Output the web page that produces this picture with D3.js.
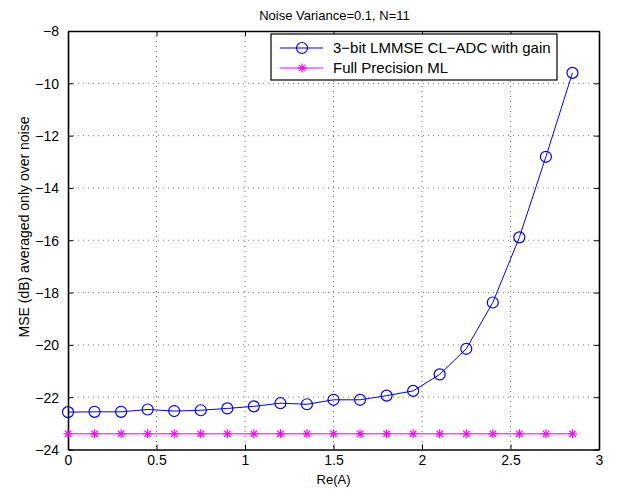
<!DOCTYPE html>
<html>
<head>
<meta charset="utf-8">
<script src="https://cdn.jsdelivr.net/npm/d3@7"></script>
<style>
  body { margin: 0; background: #fff; }
  svg { font-family: "Liberation Sans", Arial, sans-serif; }
</style>
</head>
<body>
<svg id="chart" width="617" height="490"></svg>
<script>
var xValues = [0, 0.15, 0.3, 0.45, 0.6, 0.75, 0.9, 1.05, 1.2, 1.35, 1.5, 1.65, 1.8, 1.95, 2.1, 2.25, 2.4, 2.55, 2.7, 2.85];
var lmmseValues = [-22.57, -22.56, -22.56, -22.47, -22.53, -22.5, -22.43, -22.35, -22.23, -22.27, -22.1, -22.1, -21.94, -21.76, -21.13, -20.15, -18.38, -15.89, -12.81, -9.6];
var mlValues = [-23.4, -23.4, -23.4, -23.4, -23.4, -23.4, -23.4, -23.4, -23.4, -23.4, -23.4, -23.4, -23.4, -23.4, -23.4, -23.4, -23.4, -23.4, -23.4, -23.4];
var xTicks = [0, 0.5, 1, 1.5, 2, 2.5, 3];
var yTicks = [-24, -22, -20, -18, -16, -14, -12, -10, -8];
var seriesNames = ['3\u2212bit LMMSE CL\u2212ADC with gain', 'Full Precision ML'];

(function() {
    var svg = d3.select('#chart');
    var margin = {top: 31, right: 18, bottom: 40.5, left: 68};
    var width = 617 - margin.left - margin.right;
    var height = 490 - margin.top - margin.bottom;

    var x = d3.scaleLinear().domain([0, 3]).range([0, width]);
    var y = d3.scaleLinear().domain([-24, -8]).range([height, 0]);

    var g = svg.append('g')
        .attr('transform', 'translate(' + margin.left + ',' + margin.top + ')');

    // dotted grid
    g.append('g').selectAll('line')
        .data(xTicks.slice(1, -1))
        .enter().append('line')
        .attr('x1', function(d) { return x(d); })
        .attr('x2', function(d) { return x(d); })
        .attr('y1', 0).attr('y2', height)
        .attr('stroke', '#555').attr('stroke-width', 0.8)
        .attr('stroke-dasharray', '1,4');
    g.append('g').selectAll('line')
        .data(yTicks.slice(1, -1))
        .enter().append('line')
        .attr('y1', function(d) { return y(d); })
        .attr('y2', function(d) { return y(d); })
        .attr('x1', 0).attr('x2', width)
        .attr('stroke', '#555').attr('stroke-width', 0.8)
        .attr('stroke-dasharray', '1,4');

    var fmt = function(d) { return d < 0 ? '\u2212' + Math.abs(d) : d; };

    // axes with inward ticks on all four sides
    var bottomAxis = g.append('g')
        .attr('transform', 'translate(0,' + height + ')')
        .call(d3.axisBottom(x).tickValues(xTicks).tickSizeInner(-5).tickSizeOuter(0).tickPadding(5).tickFormat(fmt));
    var topAxis = g.append('g')
        .call(d3.axisTop(x).tickValues(xTicks).tickSizeInner(-5).tickSizeOuter(0).tickFormat(''));
    var leftAxis = g.append('g')
        .call(d3.axisLeft(y).tickValues(yTicks).tickSizeInner(-5).tickSizeOuter(0).tickPadding(9).tickFormat(fmt));
    var rightAxis = g.append('g')
        .attr('transform', 'translate(' + width + ',0)')
        .call(d3.axisRight(y).tickValues(yTicks).tickSizeInner(-5).tickSizeOuter(0).tickFormat(''));

    [bottomAxis, topAxis, leftAxis, rightAxis].forEach(function(a) {
        a.selectAll('.domain').attr('stroke', '#000').attr('stroke-width', 1.6);
        a.selectAll('.tick line').attr('stroke', '#000').attr('stroke-width', 1);
        a.selectAll('text').attr('font-size', 14).attr('fill', '#000')
            .attr('font-family', '"Liberation Sans", Arial, sans-serif');
    });
    bottomAxis.selectAll('text').attr('dy', '0.72em');
    leftAxis.selectAll('text').attr('dy', '0.35em');

    // series
    var line = d3.line()
        .x(function(d) { return x(d[0]); })
        .y(function(d) { return y(d[1]); });

    var mlData = d3.zip(xValues, mlValues);
    var lmmseData = d3.zip(xValues, lmmseValues);

    g.append('path')
        .datum(mlData)
        .attr('d', line)
        .attr('fill', 'none')
        .attr('stroke', '#ff00ff')
        .attr('stroke-width', 1);

    function star(sel, r) {
        sel.each(function(d) {
            var gg = d3.select(this);
            [0, 45, 90, 135].forEach(function(a) {
                var rad = a * Math.PI / 180;
                gg.append('line')
                    .attr('x1', -r * Math.cos(rad)).attr('y1', -r * Math.sin(rad))
                    .attr('x2', r * Math.cos(rad)).attr('y2', r * Math.sin(rad))
                    .attr('stroke', '#ff00ff').attr('stroke-width', 1.2);
            });
        });
    }

    g.append('g').selectAll('g')
        .data(mlData)
        .enter().append('g')
        .attr('transform', function(d) { return 'translate(' + x(d[0]) + ',' + y(d[1]) + ')'; })
        .call(star, 4.5);

    g.append('path')
        .datum(lmmseData)
        .attr('d', line)
        .attr('fill', 'none')
        .attr('stroke', '#0000ff')
        .attr('stroke-width', 1);

    g.append('g').selectAll('circle')
        .data(lmmseData)
        .enter().append('circle')
        .attr('cx', function(d) { return x(d[0]); })
        .attr('cy', function(d) { return y(d[1]); })
        .attr('r', 5.5)
        .attr('fill', 'none')
        .attr('stroke', '#0000ff')
        .attr('stroke-width', 1.2);

    // legend
    var legend = svg.append('g').attr('transform', 'translate(271,34)');
    legend.append('rect')
        .attr('width', 286).attr('height', 46)
        .attr('fill', '#fff').attr('stroke', '#000').attr('stroke-width', 1.2);
    var rows = legend.selectAll('.row')
        .data(seriesNames)
        .enter().append('g')
        .attr('class', 'row')
        .attr('transform', function(d, i) { return 'translate(0,' + (14 + i * 20) + ')'; });
    rows.append('line')
        .attr('x1', 9).attr('x2', 52)
        .attr('stroke', function(d, i) { return i === 0 ? '#0000ff' : '#ff00ff'; })
        .attr('stroke-width', 1);
    rows.filter(function(d, i) { return i === 0; })
        .append('circle')
        .attr('cx', 31).attr('r', 5.5)
        .attr('fill', 'none').attr('stroke', '#0000ff').attr('stroke-width', 1.2);
    rows.filter(function(d, i) { return i === 1; })
        .append('g').attr('transform', 'translate(31,0)')
        .call(star, 4.5);
    rows.append('text')
        .attr('x', 62).attr('dy', '0.35em')
        .attr('font-size', 15)
        .text(function(d) { return d; });

    // title and axis labels
    svg.append('text')
        .attr('x', margin.left + width / 2 + 1).attr('y', 20)
        .attr('text-anchor', 'middle').attr('font-size', 13)
        .text('Noise Variance=0.1, N=11');
    svg.append('text')
        .attr('x', margin.left + width / 2).attr('y', 484)
        .attr('text-anchor', 'middle').attr('font-size', 13)
        .text('Re(A)');
    svg.append('text')
        .attr('transform', 'translate(29,227) rotate(-90)')
        .attr('text-anchor', 'middle').attr('font-size', 14)
        .text('MSE (dB) averaged only over noise');
})();
</script>
</body>
</html>
